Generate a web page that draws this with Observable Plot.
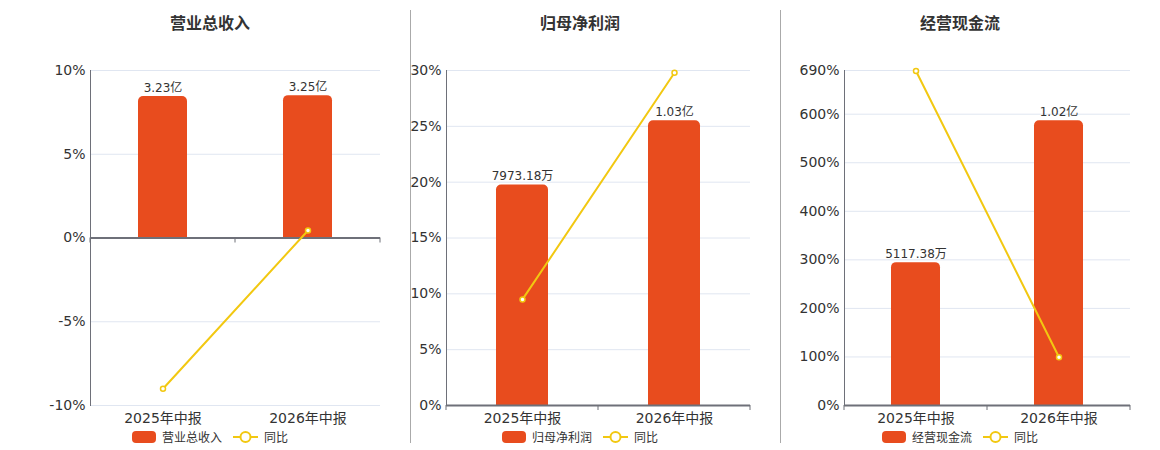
<!DOCTYPE html>
<html>
<head>
<meta charset="utf-8">
<script src="https://cdn.jsdelivr.net/npm/d3@7"></script>
<script src="https://cdn.jsdelivr.net/npm/@observablehq/plot@0.6"></script>
<style>
  body { margin: 0; background: #fff; font-family: "DejaVu Sans", "Noto Sans CJK SC", sans-serif; }
  #wrap { position: relative; width: 1160px; height: 450px; display: flex; overflow: hidden; }
  .panel { position: relative; flex: none; }
  .title { height: 45px; line-height: 44px; text-align: center; font-size: 16px; font-weight: bold; color: #333;
           font-family: "Noto Sans CJK SC", sans-serif; }
  .legend { height: 17px; display: flex; justify-content: center; align-items: center; font-size: 12px; color: #333;
            font-family: "Noto Sans CJK SC", sans-serif; }
  .legend .sw { display: inline-block; width: 24px; height: 12px; border-radius: 4px; margin-right: 6px; }
  .legend svg { margin-left: 11px; margin-right: 6px; }
  .sep { position: absolute; top: 10px; height: 433px; width: 1px; background: #aaa; }
  svg { display: block; }
</style>
</head>
<body>
<div id="wrap"></div>
<script>
const categories = ["2025年中报", "2026年中报"];
const titles = ["营业总收入", "归母净利润", "经营现金流"];
const yoyName = "同比";

// bar values in 亿元
const revenueValues = [3.23, 3.25];
const revenueLabels = ["3.23亿", "3.25亿"];
const revenueYoY = [-9.0, 0.45];
const revenueTicks = [-10, -5, 0, 5, 10];

const profitValues = [0.797318, 1.03];
const profitLabels = ["7973.18万", "1.03亿"];
const profitYoY = [9.5, 29.8];
const profitTicks = [0, 5, 10, 15, 20, 25, 30];

const cashValues = [0.511738, 1.02];
const cashLabels = ["5117.38万", "1.02亿"];
const cashYoY = [689, 99.3];
const cashTicks = [0, 100, 200, 300, 400, 500, 600, 690];

const barColor = "#E84C1E";
const lineColor = "#F2C811";
const axisColor = "#6E7079";
const gridColor = "#E0E6F1";

const panels = [
  {title: titles[0], values: revenueValues, labels: revenueLabels, yoy: revenueYoY, ticks: revenueTicks, width: 410, ml: 90, shift: 5},
  {title: titles[1], values: profitValues, labels: profitLabels, yoy: profitYoY, ticks: profitTicks, width: 370, ml: 36, shift: -15},
  {title: titles[2], values: cashValues, labels: cashLabels, yoy: cashYoY, ticks: cashTicks, width: 380, ml: 64, shift: -10}
];

const wrap = document.getElementById("wrap");
let xOffset = 0;
panels.forEach((cfg, idx) => {
  const yTop = d3.max(cfg.ticks);
  const yBottom = d3.min(cfg.ticks);
  const vmax = d3.max(cfg.values);
  const rows = categories.map((c, i) => ({
    cat: c,
    bar: cfg.values[i] / vmax * 0.85 * yTop,
    label: cfg.labels[i],
    yoy: cfg.yoy[i]
  }));

  const div = document.createElement("div");
  div.className = "panel";
  div.style.width = cfg.width + "px";

  const t = document.createElement("div");
  t.className = "title";
  t.textContent = cfg.title;
  t.style.transform = `translateX(${cfg.shift}px)`;
  div.appendChild(t);

  const plot = Plot.plot({
    width: cfg.width,
    height: 383,
    marginTop: 25,
    marginBottom: 23,
    marginLeft: cfg.ml,
    marginRight: 30,
    style: {fontFamily: '"DejaVu Sans", "Noto Sans CJK SC", sans-serif', fontSize: "14px", color: "#333", background: "transparent"},
    x: {domain: categories, paddingInner: 0.66, paddingOuter: 0.33, label: null},
    y: {domain: [yBottom, yTop], label: null},
    marks: [
      Plot.gridY(cfg.ticks, {stroke: gridColor, strokeOpacity: 1}),
      Plot.axisY(cfg.ticks, {tickSize: 0, tickPadding: 5, tickFormat: d => d + "%", fontSize: 14, fill: "#333"}),
      Plot.axisX({tickSize: 0, tickPadding: 8, fontSize: 14, fill: "#333"}),
      Plot.frame({anchor: "left", stroke: axisColor}),
      Plot.barY(rows, {x: "cat", y: "bar", fill: barColor, ry1: 5}),
      Plot.ruleY([0], {stroke: axisColor, strokeWidth: 2}),
      Plot.text(rows, {x: "cat", y: "bar", text: "label", lineAnchor: "bottom", dy: -5, fontSize: 12, fill: "#333"}),
      Plot.line(rows, {x: "cat", y: "yoy", stroke: lineColor, strokeWidth: 2}),
      Plot.dot(rows, {x: "cat", y: "yoy", r: 2.5, fill: "#fff", stroke: lineColor, strokeWidth: 1.5})
    ]
  });

  // category boundary ticks on the zero axis, from the plot's own scales
  const xs = plot.scale("x");
  const ys = plot.scale("y");
  const y0 = ys.apply(0);
  const [r0, r1] = xs.range;
  const n = xs.domain.length;
  const sel = d3.select(plot);
  for (let i = 0; i <= n; i++) {
    const xx = r0 + i * (r1 - r0) / n;
    sel.append("line").attr("x1", xx).attr("x2", xx).attr("y1", y0).attr("y2", y0 + 5)
      .attr("stroke", axisColor).attr("stroke-width", 1);
  }
  div.appendChild(plot);

  const lg = document.createElement("div");
  lg.className = "legend";
  lg.style.transform = `translateX(${cfg.shift}px)`;
  lg.innerHTML = `<span class="sw" style="background:${barColor}"></span><span>${cfg.title}</span>` +
    `<svg width="25" height="14"><line x1="0" x2="25" y1="7" y2="7" stroke="${lineColor}" stroke-width="2"/>` +
    `<circle cx="12.5" cy="7" r="5" fill="#fff" stroke="${lineColor}" stroke-width="2"/></svg><span>${yoyName}</span>`;
  div.appendChild(lg);

  wrap.appendChild(div);
  xOffset += cfg.width;
  if (idx < panels.length - 1) {
    const s = document.createElement("div");
    s.className = "sep";
    s.style.left = xOffset + "px";
    wrap.appendChild(s);
  }
});
</script>
</body>
</html>
